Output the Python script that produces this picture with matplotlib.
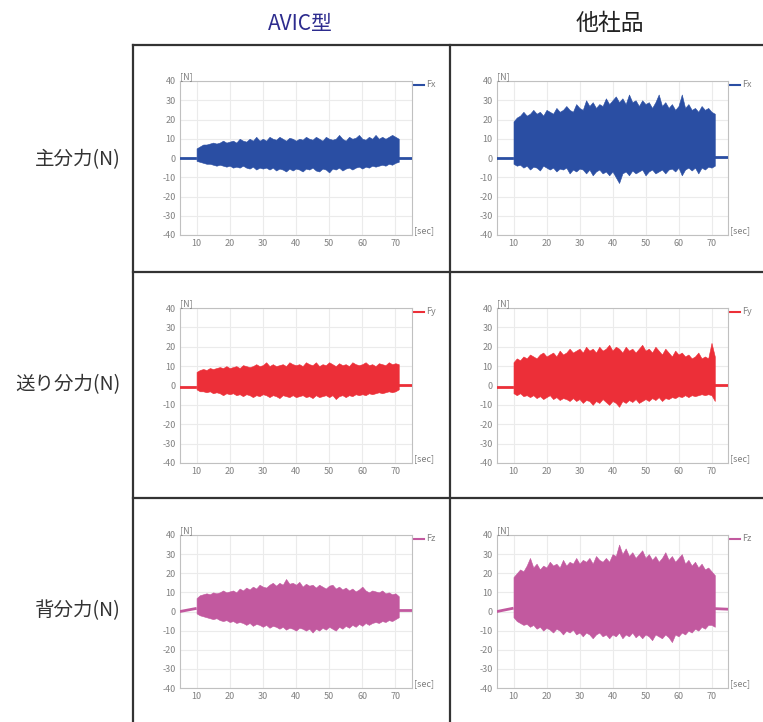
import matplotlib
matplotlib.use("Agg")
import matplotlib.pyplot as plt
from matplotlib.lines import Line2D

plt.rcParams['font.family'] = ['Noto Sans CJK JP', 'DejaVu Sans']
plt.rcParams['axes.unicode_minus'] = False

# ---- data (envelope of the force signal, every 1 sec) ----
sec = list(range(10, 72))

# AVIC, main force Fx
avic_fx_hi = [5, 6, 7, 7, 7.5, 8, 7.5, 8, 9, 8, 8.5, 9, 8, 10, 9, 8.5, 10, 9, 11, 9,
              10, 9, 11, 10, 9.5, 11, 10, 9, 10.5, 10, 9, 10, 9.5, 11, 10, 9.5, 11, 10, 9, 11,
              10, 9.5, 10, 12, 10, 9, 11, 10, 10.5, 12, 10, 9.5, 11, 10, 12, 10, 11, 10, 11, 12,
              11, 10]
avic_fx_lo = [-1.5, -2, -2.5, -3, -3, -3.5, -4, -3.5, -4, -4.5, -4, -5, -4.5, -5, -4, -5, -5.5, -4.5, -6, -5,
              -5.5, -5, -6, -5, -6.5, -5.5, -6, -7, -5.5, -6.5, -5.5, -6, -7, -5.5, -6, -5, -6.5, -7, -5.5, -6,
              -7.5, -5.5, -6, -5, -6.5, -5.5, -5, -6, -5, -4.5, -5.5, -4.5, -5, -4, -4.5, -4, -3.5, -4, -3, -3.5,
              -2.5, -2]
# other maker, main force Fx
other_fx_hi = [19, 21, 22, 24, 22, 23, 25, 23, 24, 22, 25, 24, 23, 26, 24, 25, 27, 25, 24, 28,
               26, 25, 30, 27, 29, 26, 28, 27, 31, 28, 30, 32, 29, 31, 28, 33, 29, 30, 27, 30,
               28, 29, 26, 29, 33, 27, 29, 26, 28, 25, 27, 33, 26, 28, 25, 26, 24, 27, 25, 26,
               24, 23]
other_fx_lo = [-3, -4, -3.5, -5, -4, -6, -4.5, -5, -6.5, -4, -5, -6, -5, -7, -5.5, -6, -5, -8, -6, -7,
               -5.5, -6, -8, -6, -9, -7, -6, -8, -7, -9, -7, -10, -13, -8, -7, -9, -6.5, -8, -7, -6,
               -9, -7, -6, -8, -7, -6, -8, -6, -5.5, -7, -5, -9, -6, -5, -6.5, -5, -8, -5, -6, -4.5,
               -5, -4]

# AVIC, feed force Fy
avic_fy_hi = [7, 8, 8.5, 8, 9, 8.5, 9, 9.5, 9, 10, 9, 9.5, 10, 9, 10.5, 10, 9.5, 10, 11, 10,
              10.5, 12, 10, 11, 10, 10.5, 11, 10, 12, 11, 10.5, 11, 10, 12, 11, 10.5, 12, 10, 11, 10.5,
              12, 11, 10, 11.5, 10.5, 11, 10, 12, 11, 10.5, 11, 12, 10.5, 11, 10, 11.5, 11, 10.5, 12, 11,
              11.5, 11]
avic_fy_lo = [-2, -3, -3, -3.5, -3, -4, -3.5, -4, -5, -4, -4.5, -4, -5, -4.5, -5.5, -4.5, -5, -6, -5, -5.5,
              -4.5, -5, -6, -5, -5.5, -6.5, -5, -5.5, -6, -5, -6, -5.5, -5, -6, -5.5, -6.5, -5, -6, -5.5, -5,
              -6, -5, -7, -5.5, -5, -6, -5, -5.5, -4.5, -5, -4.5, -5, -4, -4.5, -4, -3.5, -4, -3.5, -3, -3.5,
              -3, -2]
# other maker, feed force Fy
other_fy_hi = [12, 14, 13, 15, 14, 16, 15, 14, 16, 17, 15, 16, 17, 15, 18, 16, 17, 19, 17, 18,
               19, 17, 20, 18, 19, 17, 20, 18, 19, 21, 18, 20, 19, 17, 20, 18, 19, 17, 19, 21,
               18, 19, 17, 20, 18, 16, 19, 17, 15, 18, 16, 17, 15, 16, 14, 15, 17, 14, 15, 14,
               22, 15]
other_fy_lo = [-4, -5, -4, -5.5, -5, -6, -5, -6.5, -5.5, -7, -6, -5, -7, -6, -7.5, -6.5, -7, -8, -6.5, -8,
               -7, -9, -7.5, -8, -10, -8, -9, -7, -8.5, -10, -8, -9, -11, -8, -9, -7.5, -8.5, -7, -9, -8,
               -7, -8, -6.5, -7.5, -6, -8, -6.5, -7, -6, -6.5, -5.5, -6, -5, -6, -5, -5.5, -5, -4.5, -5, -4.5,
               -5, -8]

# AVIC, back force Fz
avic_fz_hi = [7, 8.5, 9, 9.5, 9, 10, 9.5, 10, 11, 10, 10.5, 11, 10, 12, 11, 12.5, 11.5, 13, 12, 14,
              13, 12.5, 14, 15, 13.5, 15, 14, 17, 14.5, 15, 14, 15.5, 13, 14.5, 13.5, 14, 12.5, 14, 13, 12,
              13.5, 14, 12, 13, 11.5, 12.5, 11, 12, 10.5, 11.5, 13, 11, 10, 11, 10.5, 10, 11, 9.5, 10, 9,
              9.5, 8]
avic_fz_lo = [-1, -2, -2.5, -3, -3.5, -4, -3.5, -4.5, -5, -4.5, -5.5, -5, -6, -5.5, -6, -7, -6, -7.5, -6.5, -7,
              -8, -7, -8.5, -7.5, -8, -9, -8, -9.5, -8.5, -9, -10, -8.5, -9, -10, -9, -11, -9, -10, -8.5, -9.5,
              -8, -9, -10, -8, -9, -7.5, -8.5, -7, -8, -6.5, -7.5, -6, -7, -6, -5.5, -6, -5, -5.5, -4.5, -5,
              -4, -3]
# other maker, back force Fz
other_fz_hi = [18, 20, 22, 21, 24, 28, 23, 25, 22, 24, 23, 26, 24, 25, 23, 27, 24, 26, 25, 28,
               25, 27, 26, 28, 25, 29, 27, 26, 28, 26, 30, 29, 35, 30, 33, 29, 31, 28, 30, 32,
               28, 30, 27, 29, 26, 28, 31, 27, 29, 26, 28, 30, 25, 27, 24, 26, 23, 25, 22, 23,
               21, 19]
other_fz_lo = [-3, -5, -6, -7, -6.5, -8, -7, -9, -8, -10, -8.5, -9.5, -11, -9, -10, -12, -10, -11, -9.5, -12,
               -11, -13, -11, -12, -14, -12, -11, -13, -12, -14, -12, -13, -11, -14, -12, -13, -11, -13.5, -12, -14,
               -12, -13, -15, -12, -13, -14, -12, -13.5, -16, -12, -13, -11, -12, -10, -11, -9, -10, -8, -9, -7,
               -7, -8]

# idle level before / after cutting
idle_t_pre = [5, 9.6]
idle_t_post = [71, 75]
avic_fx_idle = ([0, 0], [0, 0])
other_fx_idle = ([0, 0], [0.3, 0.3])
avic_fy_idle = ([-1, -1], [0.5, 0.5])
other_fy_idle = ([-1, -1], [0.5, 0.5])
avic_fz_idle = ([0, 1.5], [1, 1])
other_fz_idle = ([0, 1.6], [1.5, 1.2])

col_titles = ['AVIC型', '他社品']
row_titles = ['主分力(N)', '送り分力(N)', '背分力(N)']
legend_names = ['Fx', 'Fy', 'Fz']
colors = ['#2a4ea3', '#ec2f38', '#c2599f']
yticks = [-40, -30, -20, -10, 0, 10, 20, 30, 40]
xticks = [10, 20, 30, 40, 50, 60, 70]

panels = [
    [(avic_fx_hi, avic_fx_lo, avic_fx_idle), (other_fx_hi, other_fx_lo, other_fx_idle)],
    [(avic_fy_hi, avic_fy_lo, avic_fy_idle), (other_fy_hi, other_fy_lo, other_fy_idle)],
    [(avic_fz_hi, avic_fz_lo, avic_fz_idle), (other_fz_hi, other_fz_lo, other_fz_idle)],
]

W, H = 763, 722
fig = plt.figure(figsize=(W / 100, H / 100), dpi=100)

# pixel layout of the little plots
col_x = [(180, 412), (497, 728)]
row_y = [(81, 235), (308, 463), (535, 688)]
small = dict(fontsize=6.5, color='#808080')

for r in range(3):
    for c in range(2):
        x0, x1 = col_x[c]
        y0, y1 = row_y[r]
        ax = fig.add_axes([x0 / W, 1 - y1 / H, (x1 - x0) / W, (y1 - y0) / H])
        hi, lo, idle = panels[r][c]
        col = colors[r]
        ax.fill_between(sec, lo, hi, color=col, lw=0.4, edgecolor=col, zorder=3)
        ax.plot(idle_t_pre, idle[0], color=col, lw=2, zorder=3)
        ax.plot(idle_t_post, idle[1], color=col, lw=2, zorder=3)
        ax.set_xlim(5, 75)
        ax.set_ylim(-40, 40)
        ax.set_xticks(xticks)
        ax.set_yticks(yticks)
        ax.tick_params(length=0, labelsize=6.5, labelcolor='#808080', pad=3)
        ax.grid(True, color='#ebebeb', lw=0.8, zorder=0)
        for sp in ax.spines.values():
            sp.set_color('#c0c0c0')
            sp.set_linewidth(0.8)
        ax.text(0.0, 1.0, '[N]', transform=ax.transAxes, ha='left', va='bottom', **small)
        ax.text(1.01, 0.0, '[sec]', transform=ax.transAxes, ha='left', va='bottom', **small)
        ax.add_line(Line2D([1.005, 1.05], [0.975, 0.975], transform=ax.transAxes,
                           color=col, lw=1.5, clip_on=False))
        ax.text(1.06, 0.975, legend_names[r], transform=ax.transAxes,
                ha='left', va='center', **small)

# table frame
frame = dict(color='#333333', lw=1.6, transform=fig.transFigure, clip_on=False)
fig.add_artist(Line2D([133 / W, 133 / W], [1 - 45 / H, 0], **frame))
fig.add_artist(Line2D([450 / W, 450 / W], [1 - 45 / H, 0], **frame))
for yy in [45, 272, 498]:
    fig.add_artist(Line2D([133 / W, 1], [1 - yy / H, 1 - yy / H], **frame))

# headers
fig.text(300 / W, 1 - 24 / H, col_titles[0], color='#2d2c8e', fontsize=15,
         ha='center', va='center')
fig.text(610 / W, 1 - 24 / H, col_titles[1], color='#222222', fontsize=16.5,
         ha='center', va='center')
for yy, t in zip([160, 385, 611], row_titles):
    fig.text(121 / W, 1 - yy / H, t, color='#333333', fontsize=14,
             ha='right', va='center')

fig.savefig('out.png', dpi=100)
